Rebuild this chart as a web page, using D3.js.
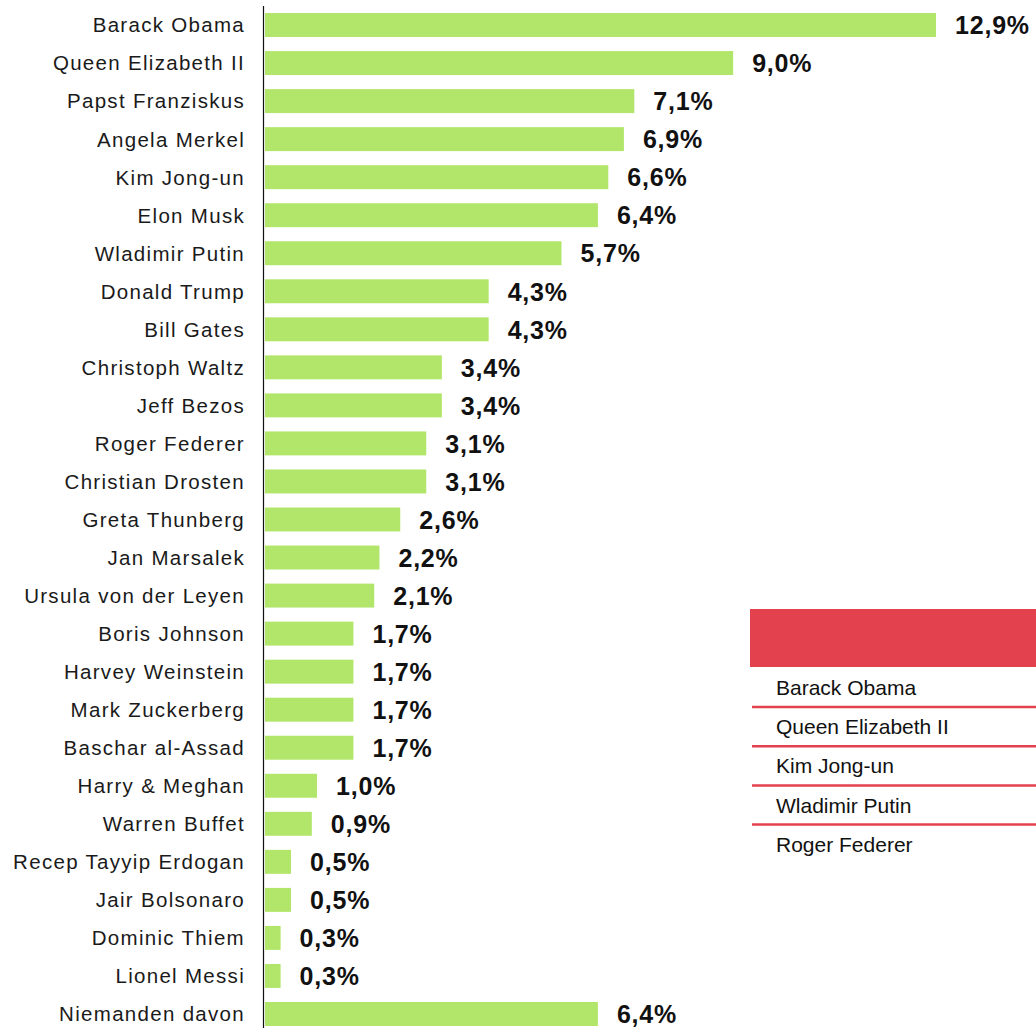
<!DOCTYPE html>
<html>
<head>
<meta charset="utf-8">
<script src="https://cdn.jsdelivr.net/npm/d3@7"></script>
<style>
  html, body { margin: 0; padding: 0; background: #fff; }
  svg { display: block; }
</style>
</head>
<body>
<div id="chart"></div>
<script>
const names = [
    "Barack Obama", "Queen Elizabeth II", "Papst Franziskus", "Angela Merkel",
    "Kim Jong-un", "Elon Musk", "Wladimir Putin", "Donald Trump", "Bill Gates",
    "Christoph Waltz", "Jeff Bezos", "Roger Federer", "Christian Drosten",
    "Greta Thunberg", "Jan Marsalek", "Ursula von der Leyen", "Boris Johnson",
    "Harvey Weinstein", "Mark Zuckerberg", "Baschar al-Assad", "Harry & Meghan",
    "Warren Buffet", "Recep Tayyip Erdogan", "Jair Bolsonaro", "Dominic Thiem",
    "Lionel Messi", "Niemanden davon"
];
const shares = [
    12.9, 9.0, 7.1, 6.9, 6.6, 6.4, 5.7, 4.3, 4.3, 3.4, 3.4, 3.1, 3.1,
    2.6, 2.2, 2.1, 1.7, 1.7, 1.7, 1.7, 1.0, 0.9, 0.5, 0.5, 0.3, 0.3, 6.4
];
const legendNames = [
    "Barack Obama", "Queen Elizabeth II", "Kim Jong-un", "Wladimir Putin", "Roger Federer"
];

const width = 1036, height = 1028;
const font = "Arial, 'Liberation Sans', sans-serif";
const barColor = "#b2e66a";
const red = "#e4414f";

// German number format: 12,9%
const de = d3.formatLocale({ decimal: ",", thousands: ".", grouping: [3], currency: ["", " €"] });
const fmt = v => de.format(".1f")(v) + "%";

const data = names.map((n, i) => ({ name: n, value: shares[i] }));

const svg = d3.select("#chart").append("svg")
    .attr("width", width)
    .attr("height", height)
    .attr("font-family", font);

const x = d3.scaleLinear()
    .domain([0, 12.9])
    .range([265, 936]);

const y = d3.scaleBand()
    .domain(names)
    .range([6, 1033])
    .paddingInner(0.37)
    .paddingOuter(0.185);

// bars
svg.append("g")
    .selectAll("rect")
    .data(data)
    .join("rect")
    .attr("x", x(0))
    .attr("y", d => y(d.name))
    .attr("width", d => x(d.value) - x(0))
    .attr("height", y.bandwidth())
    .attr("fill", barColor);

// category labels
svg.append("g")
    .selectAll("text")
    .data(data)
    .join("text")
    .attr("x", 245)
    .attr("y", d => y(d.name) + y.bandwidth() / 2)
    .attr("dy", "0.36em")
    .attr("text-anchor", "end")
    .attr("font-size", 20.5)
    .attr("letter-spacing", "1.3px")
    .attr("fill", "#1a1a1a")
    .text(d => d.name);

// value labels
svg.append("g")
    .selectAll("text")
    .data(data)
    .join("text")
    .attr("x", d => x(d.value) + 19)
    .attr("y", d => y(d.name) + y.bandwidth() / 2)
    .attr("dy", "0.37em")
    .attr("font-size", 25)
    .attr("font-weight", "bold")
    .attr("letter-spacing", "0.8px")
    .attr("fill", "#111")
    .text(d => fmt(d.value));

// axis line
svg.append("line")
    .attr("x1", 263.5).attr("x2", 263.5)
    .attr("y1", 6).attr("y2", height)
    .attr("stroke", "#111")
    .attr("stroke-width", 1.2);

// legend table
const legend = svg.append("g");
legend.append("rect")
    .attr("x", 750).attr("y", 609)
    .attr("width", width - 750).attr("height", 58)
    .attr("fill", red);

const rowH = 39.2;
const item = legend.selectAll("g")
    .data(legendNames)
    .join("g")
    .attr("transform", (d, i) => `translate(0,${667 + i * rowH})`);

item.append("text")
    .attr("x", 776)
    .attr("y", 28)
    .attr("font-size", 21)
    .attr("fill", "#111")
    .text(d => d);

item.filter((d, i) => i < legendNames.length - 1)
    .append("line")
    .attr("x1", 752).attr("x2", width)
    .attr("y1", 40).attr("y2", 40)
    .attr("stroke", red)
    .attr("stroke-width", 2.5);
</script>
</body>
</html>
